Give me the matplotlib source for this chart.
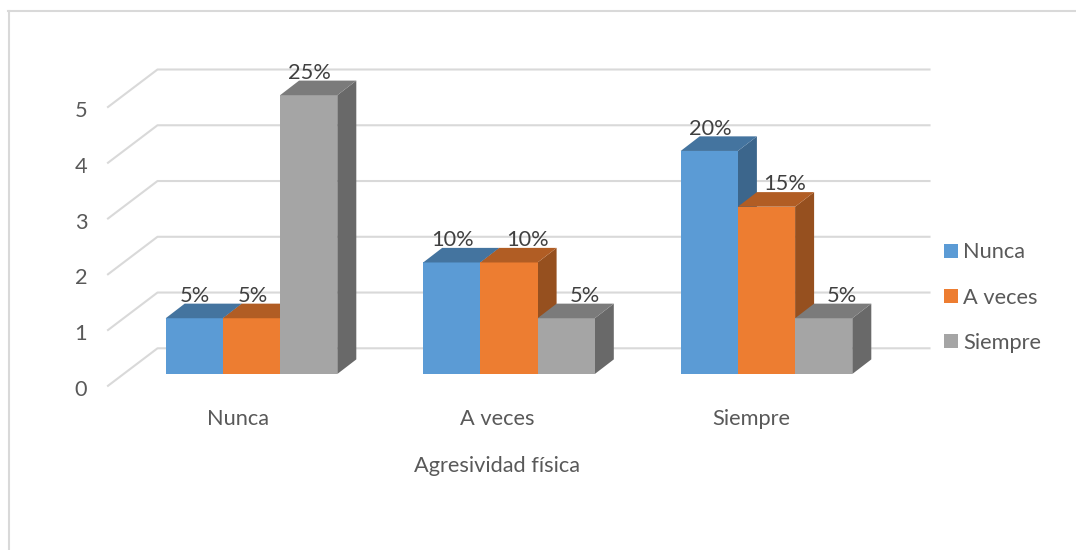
import numpy as np
import matplotlib.pyplot as plt
from matplotlib.patches import Polygon, Patch

plt.rcParams['font.family'] = ['Lato', 'DejaVu Sans']

categories = ['Nunca', 'A veces', 'Siempre']
series_names = ['Nunca', 'A veces', 'Siempre']
nunca = [1, 2, 4]
a_veces = [1, 2, 3]
siempre = [5, 1, 1]
nunca_labels = ['5%', '10%', '20%']
a_veces_labels = ['5%', '10%', '15%']
siempre_labels = ['25%', '5%', '5%']
y_ticks = [0, 1, 2, 3, 4, 5]
x_title = 'Agresividad física'

front = ['#5B9BD5', '#ED7D31', '#A5A5A5']
top = ['#44749F', '#B15D24', '#7B7B7B']
side = ['#3C668C', '#96501F', '#696969']

# scale: one category = 257.5 px, one y unit = 55.76 px
px_x = 1 / 257.5
px_y = 1 / 55.76
W, H = 1076, 550
X0, Y0 = 251.5, 374  # pixel of category 0, value 0
fs = 15.7

fig = plt.figure(figsize=(10.76, 5.5), dpi=100)
ax = fig.add_axes([0, 0, 1, 1])
ax.set_xlim(-X0 * px_x, (W - X0) * px_x)
ax.set_ylim(-(H - Y0) * px_y, Y0 * px_y)
ax.axis('off')

# outer frame of the chart area
frame = '#D9D9D9'
ax.plot([(8.8 - X0) * px_x] * 2, [-(H - Y0) * px_y, (Y0 - 10.8) * px_y], color=frame, lw=1.5)
ax.plot([(8 - X0) * px_x, (W - X0) * px_x], [(Y0 - 10.8) * px_y] * 2, color=frame, lw=1.5)

# gridlines on back wall and on the side wall
wall_x = (157.5 - X0) * px_x
wall_end = (929.5 - X0) * px_x
wall_left = (108 - X0) * px_x
wall_dy = 25.7 * px_y   # back wall level vs. bar level
side_dy = -11.8 * px_y  # front edge level vs. bar level
for v in y_ticks:
    ax.plot([wall_left, wall_x, wall_end], [v + side_dy, v + wall_dy, v + wall_dy],
            color='#D9D9D9', lw=1.5, zorder=1)
    ax.text((81 - X0) * px_x, v + side_dy - 4 * px_y, str(v), ha='center', va='center',
            fontsize=fs, color='#595959')

# bars, left to right so that each one hides the side of the previous
bw = 57.2 * px_x
dx = 19 * px_x
dy = 14.6 * px_y
values = [nunca, a_veces, siempre]
labels = [nunca_labels, a_veces_labels, siempre_labels]
z = 2
for c in range(len(categories)):
    for s in range(3):
        v = values[s][c]
        x = c + (s - 1.5) * bw
        ax.add_patch(Polygon([(x + bw, 0), (x + bw + dx, dy), (x + bw + dx, v + dy), (x + bw, v)],
                             facecolor=side[s], edgecolor='none', zorder=z))
        ax.bar(x, v, bw, align='edge', color=front[s], zorder=z + 1)
        ax.add_patch(Polygon([(x, v), (x + dx, v + dy), (x + bw + dx, v + dy), (x + bw, v)],
                             facecolor=top[s], edgecolor='none', zorder=z + 1))
        # labels sit further right in the last two groups, except on the blue bar
        lab_x = x + bw / 2 + 1 * px_x
        if c > 0 and s > 0:
            lab_x += 17.5 * px_x
        ax.text(lab_x, v + 22.3 * px_y, labels[s][c], ha='center', va='center',
                fontsize=fs, color='#404040', zorder=20)
        z += 2

# category labels and axis title
shift = [-13.5, -12, -15]
for c, name in enumerate(categories):
    ax.text(c + shift[c] * px_x, (Y0 - 419) * px_y, name, ha='center', va='center',
            fontsize=fs, color='#595959')
ax.text((497 - X0) * px_x, (Y0 - 466) * px_y, x_title, ha='center', va='center',
        fontsize=fs, color='#595959')

handles = [Patch(facecolor=front[i], label=series_names[i]) for i in range(3)]
ax.legend(handles=handles, loc='center left',
          bbox_to_anchor=(944 / W, 1 - 297.5 / H), borderpad=0, borderaxespad=0,
          frameon=False, fontsize=fs, handlelength=0.64, handleheight=0.64,
          handletextpad=0.25, labelspacing=1.15, labelcolor='#595959')

plt.savefig('out.png', dpi=100)
